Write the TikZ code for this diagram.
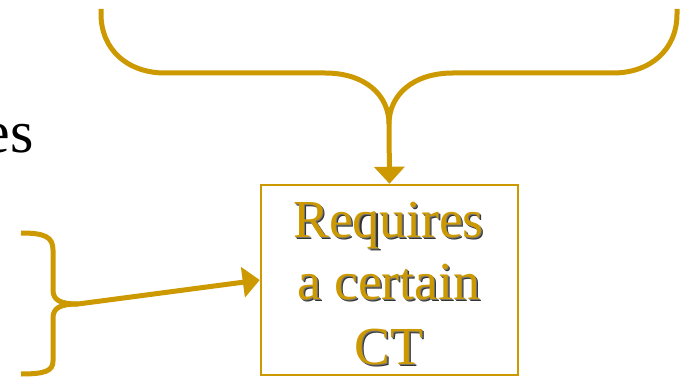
\documentclass[tikz,border=0pt]{standalone}
\usepackage{fontspec}
\setmainfont{Liberation Serif}
\usetikzlibrary{arrows.meta}
\definecolor{gold}{RGB}{204,153,0}
\newcommand\shtxt[1]{\makebox[0pt][l]{\hspace{2.2pt}\raisebox{-2.2pt}{\color{black!80}#1}}\makebox[0pt][l]{\hspace{1.1pt}\raisebox{-1.1pt}{\color{black!55}#1}}#1}
\tikzset{
  conn/.style={draw=gold, line width=5pt, line cap=butt, line join=round},
  tip/.style={-{Triangle[length=17pt,width=30pt]}},
  boxstyle/.style={draw=gold, line width=2.5pt, minimum width=257pt, minimum height=190pt, inner sep=0pt},
  boxtxt/.style={text=gold, anchor=base, inner sep=0pt, font=\fontsize{53.5}{63}\selectfont},
}
\begin{document}
\begin{tikzpicture}[x=1pt,y=-1pt]
\useasboundingbox (0,0) rectangle (685,377);
% partial word at left
\node[anchor=base east, inner sep=0pt, font=\fontsize{60}{72}\selectfont] (es) at (34,152) {es};
% box
\node[boxstyle] (box) at (389.5,280) {};
% text with shadow
\node[boxtxt] (t1) at (388.5,237) {\shtxt{Requires}};
\node[boxtxt] (t2) at (388.5,299) {\shtxt{a certain}};
\node[boxtxt] (t3) at (388.5,364) {\shtxt{CT}};
% top brace
\coordinate (tl) at (101,9);
\coordinate (tr) at (677,9);
\coordinate (tm) at (389,124);
\draw[conn,tip] (tl) -- (101,14) .. controls (101,50) and (128,73) .. (165,73)
  -- (325,73) .. controls (365,73) and (389,95) .. (tm) -- (box.north);
\draw[conn] (tr) -- (677,14) .. controls (677,50) and (650,73) .. (613,73)
  -- (453,73) .. controls (413,73) and (389,95) .. (tm);
% left brace
\coordinate (lt) at (21,233);
\coordinate (lb) at (21,374);
\coordinate (lp) at (78,304);
\draw[conn] (lt) .. controls (45,233) and (53,237) .. (53,250) -- (53,290)
  .. controls (53,300) and (60,304) .. (lp);
\draw[conn] (lp) .. controls (60,304) and (53,308) .. (53,318) -- (53,361)
  .. controls (53,371) and (45,374) .. (lb);
\draw[conn,tip] (lp) -- (box.west);
\end{tikzpicture}
\end{document}
